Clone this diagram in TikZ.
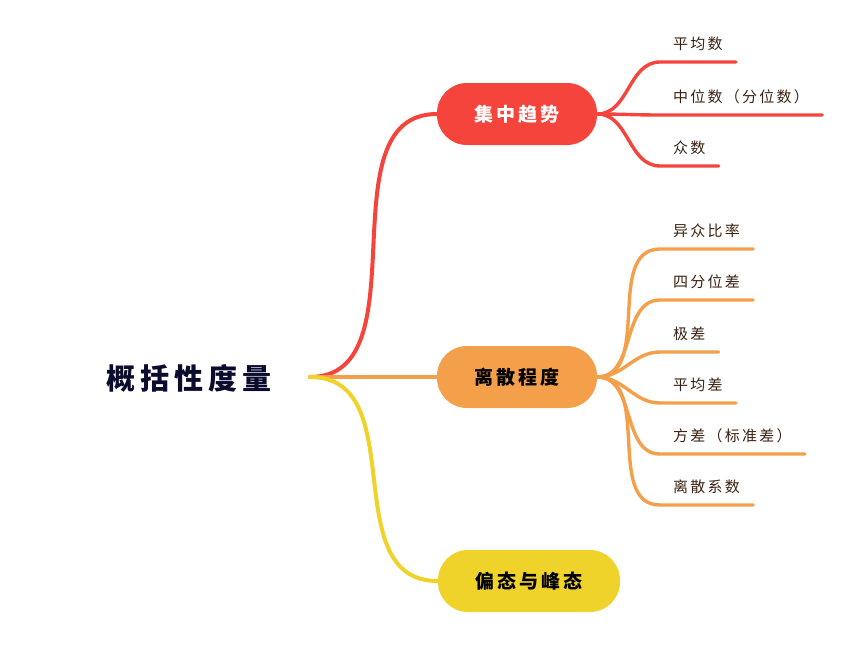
\documentclass[tikz,border=0pt]{standalone}
\usepackage{fontspec}
\setmainfont{Noto Sans CJK SC}
\definecolor{redc}{HTML}{F5443B}
\definecolor{orangec}{HTML}{F4A04B}
\definecolor{yellowc}{HTML}{F0D32A}
\definecolor{rootc}{HTML}{0B0B2E}
\definecolor{leafc}{HTML}{3A2212}

\begin{document}
\begin{tikzpicture}[x=1pt,y=-1pt,
    topic/.style ={rounded corners=30pt, minimum width=160pt, minimum height=62pt,
      font=\fontsize{19}{19}\selectfont\bfseries\addfontfeature{LetterSpace=15}},
    leaf/.style ={anchor=south west, inner xsep=13pt, inner ysep=11pt, text=leafc,
      font=\fontsize{15}{15}\selectfont\addfontfeature{LetterSpace=15}},
    branch/.style ={line width=4pt, line cap=round},
    twig/.style ={line width=3.4pt, line cap=round}]
   \useasboundingbox (0,0) rectangle (859,648);

   \node[text=rootc, font=\fontsize{29}{29}\selectfont\bfseries\addfontfeature{LetterSpace=18}] (R) at (189,378) {概括性度量};
   \coordinate (O) at (310,377);

   \node[topic,fill=redc,text=white] (C) at (517,114) {集中趋势};
   \node[topic,fill=orangec,text=black] (D) at (517,377) {离散程度};
   \node[topic,fill=yellowc,text=black,minimum width=182pt] (S) at (529,581) {偏态与峰态};

   \draw[branch,redc] (O) to[out=0,in=180] (C.west);
   \draw[branch,orangec] (O) to (D.west);
   \draw[branch,yellowc] (O) to[out=0,in=180,looseness=1.1] (S.west);

   \node[leaf] (C1) at (660,62)  {平均数};
   \node[leaf] (C2) at (660,115) {中位数（分位数）};
   \node[leaf] (C3) at (660,166) {众数};

   \draw[twig,redc] (C.east) to[out=0,in=180] (C1.south west) -- (C1.south east);
   \draw[twig,redc] (C.east) to[out=0,in=180] (C2.south west) -- (C2.south east);
   \draw[twig,redc] (C.east) to[out=0,in=180] (C3.south west) -- (C3.south east);

   \node[leaf] (D1) at (660,249) {异众比率};
   \node[leaf] (D2) at (660,300) {四分位差};
   \node[leaf] (D3) at (660,352) {极差};
   \node[leaf] (D4) at (660,403) {平均差};
   \node[leaf] (D5) at (660,454) {方差（标准差）};
   \node[leaf] (D6) at (660,505) {离散系数};

   \draw[twig,orangec] (D.east) to[out=0,in=180] (D1.south west) -- (D1.south east);
   \draw[twig,orangec] (D.east) to[out=0,in=180] (D2.south west) -- (D2.south east);
   \draw[twig,orangec] (D.east) to[out=0,in=180] (D3.south west) -- (D3.south east);
   \draw[twig,orangec] (D.east) to[out=0,in=180] (D4.south west) -- (D4.south east);
   \draw[twig,orangec] (D.east) to[out=0,in=180] (D5.south west) -- (D5.south east);
   \draw[twig,orangec] (D.east) to[out=0,in=180] (D6.south west) -- (D6.south east);
\end{tikzpicture}
\end{document}
